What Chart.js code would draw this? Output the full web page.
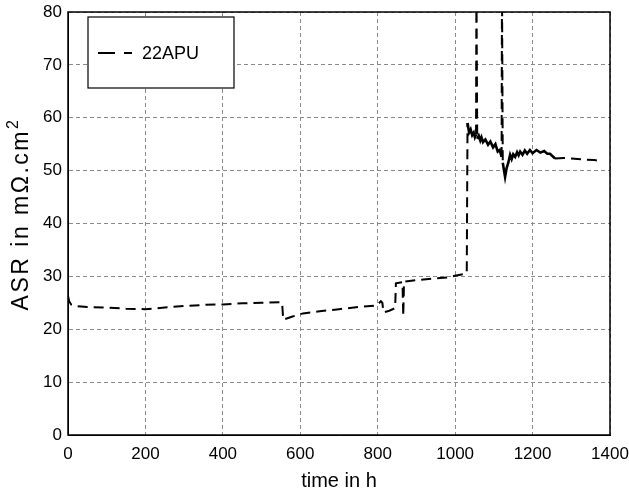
<!DOCTYPE html>
<html>
<head>
<meta charset="utf-8">
<script src="https://cdn.jsdelivr.net/npm/chart.js@4"></script>
<style>
  html, body { margin: 0; padding: 0; background: #fff; }
  #wrap { width: 629px; height: 490px; }
</style>
</head>
<body>
<div id="wrap"><canvas id="asrChart" width="629" height="490"></canvas></div>
<script>
// 22APU, ASR over time
const seriesName = '22APU';
const yTitle = 'ASR in m\u03A9.cm';
const yTitleSup = '2';
const hours = [0, 3, 8, 20, 50, 100, 150, 200, 250, 300, 350, 400, 450, 500, 552, 553, 556, 580, 607, 650,
    700, 750, 798, 808, 812, 815, 830, 845, 847, 864, 866, 868, 900, 950, 979, 1000, 1020, 1030, 1032, 1036,
    1040, 1044, 1048, 1051, 1054, 1055, 1057, 1061, 1065, 1068, 1072, 1078, 1085, 1091, 1098, 1104, 1110, 1115,
    1120, 1121, 1123, 1129, 1133, 1137, 1142, 1146, 1150, 1155, 1160, 1164, 1168, 1174, 1180, 1186, 1193, 1200,
    1210, 1220, 1230, 1238, 1245, 1258, 1280, 1300, 1330, 1360, 1378];
const asr = [26.3, 25.3, 24.7, 24.4, 24.2, 24.1, 23.9, 23.8, 24.1, 24.4, 24.6, 24.7, 24.9, 25.0, 25.1, 25.0, 21.8, 22.4, 23.0, 23.4,
    23.8, 24.2, 24.5, 25.3, 25.0, 23.2, 23.5, 24.0, 28.7, 28.9, 22.5, 29.0, 29.3, 29.6, 29.8, 30.1, 30.4, 30.6, 59.0, 57.2,
    57.8, 56.7, 57.2, 56.3, 56.8, 85, 56.0, 56.6, 55.7, 56.3, 55.4, 55.9, 54.9, 55.5, 54.4, 55.0, 53.6, 53.9,
    52.6, 85, 51.5, 48.8, 50.5, 51.4, 53.0, 52.2, 53.1, 52.6, 53.5, 52.9, 53.6, 53.0, 53.8, 53.2, 53.9, 53.3,
    53.9, 53.4, 53.7, 53.2, 53.2, 52.3, 52.4, 52.3, 52.1, 52.0, 51.8];

const xTicks = [0, 200, 400, 600, 800, 1000, 1200, 1400];
const yTicks = [0, 10, 20, 30, 40, 50, 60, 70, 80];

const font = '"Liberation Sans", Arial, sans-serif';
const punkti = hours.map((h, i) => ({ x: h, y: asr[i] }));

// šumni dio (1032–1250 h) je gust pa izgleda kao puna linija
const sumni = c => {
    const x0 = c.p0.parsed.x, y0 = c.p0.parsed.y, y1 = c.p1.parsed.y;
    return x0 >= 1032 && x0 < 1250 && y0 < 70 && y1 < 70;
};

// okvir oko područja grafa, legenda u kutiji i naslov y osi s eksponentom
const okvir = {
    id: 'okvir',
    afterDraw(chart) {
        const { ctx, chartArea: a } = chart;
        ctx.save();
        ctx.strokeStyle = '#000';
        ctx.lineWidth = 1.5;
        ctx.strokeRect(a.left, a.top, a.right - a.left, a.bottom - a.top);
        const lx = a.left + 20, ly = a.top + 5, lw = 146, lh = 71;
        ctx.fillStyle = '#fff';
        ctx.fillRect(lx, ly, lw, lh);
        ctx.lineWidth = 1.2;
        ctx.strokeRect(lx, ly, lw, lh);
        ctx.beginPath();
        ctx.lineWidth = 2;
        ctx.moveTo(lx + 10, ly + 36); ctx.lineTo(lx + 27, ly + 36);
        ctx.moveTo(lx + 36, ly + 36); ctx.lineTo(lx + 44, ly + 36);
        ctx.stroke();
        ctx.fillStyle = '#000';
        ctx.font = '18px ' + font;
        ctx.textBaseline = 'middle';
        ctx.fillText(seriesName, lx + 54, ly + 37);
        ctx.restore();

        ctx.save();
        ctx.translate(22, 214);
        ctx.rotate(-Math.PI / 2);
        ctx.fillStyle = '#000';
        ctx.textBaseline = 'middle';
        ctx.letterSpacing = '2.5px';
        ctx.font = '23px ' + font;
        const w1 = ctx.measureText(yTitle).width;
        ctx.font = '16px ' + font;
        const w2 = ctx.measureText(yTitleSup).width;
        const x0 = -(w1 + w2) / 2;
        ctx.font = '23px ' + font;
        ctx.fillText(yTitle, x0, 0);
        ctx.font = '16px ' + font;
        ctx.fillText(yTitleSup, x0 + w1, -8);
        ctx.restore();
    }
};

const ctx = document.getElementById('asrChart').getContext('2d');
new Chart(ctx, {
    type: 'scatter',
    data: {
        datasets: [{
            label: seriesName,
            data: punkti,
            showLine: true,
            borderColor: '#000',
            borderWidth: 2,
            borderDash: [10, 6],
            pointRadius: 0,
            segment: {
                borderDash: c => sumni(c) ? [] : undefined,
                borderWidth: c => sumni(c) ? 2.6 : undefined
            }
        }]
    },
    options: {
        responsive: false,
        animation: false,
        layout: { padding: { top: 12, right: 19, left: 0, bottom: 0 } },
        plugins: { legend: { display: false }, tooltip: { enabled: false } },
        scales: {
            x: {
                type: 'linear',
                min: 0, max: 1400,
                afterBuildTicks: s => { s.ticks = xTicks.map(v => ({ value: v })); },
                afterFit: s => { s.height = 55; s.paddingRight = 0; s.paddingLeft = 0; },
                grid: { color: '#8a8a8a', lineWidth: 1, drawTicks: false },
                border: { display: true, color: '#000', dash: [4, 3] },
                ticks: { color: '#000', padding: 9, callback: v => String(v), font: { size: 17, family: font } },
                title: { display: true, text: 'time in h', color: '#000', padding: { top: 0, bottom: -3 },
                    font: { size: 20, family: font } }
            },
            y: {
                min: 0, max: 80,
                afterBuildTicks: s => { s.ticks = yTicks.map(v => ({ value: v })); },
                afterFit: s => { s.width = 68; s.paddingTop = 0; s.paddingBottom = 0; },
                grid: { color: '#8a8a8a', lineWidth: 1, drawTicks: false },
                border: { display: true, color: '#000', dash: [4, 3] },
                ticks: { color: '#000', padding: 6, callback: v => String(v), font: { size: 17, family: font } },
                title: { display: false }
            }
        }
    },
    plugins: [okvir]
});
</script>
</body>
</html>
